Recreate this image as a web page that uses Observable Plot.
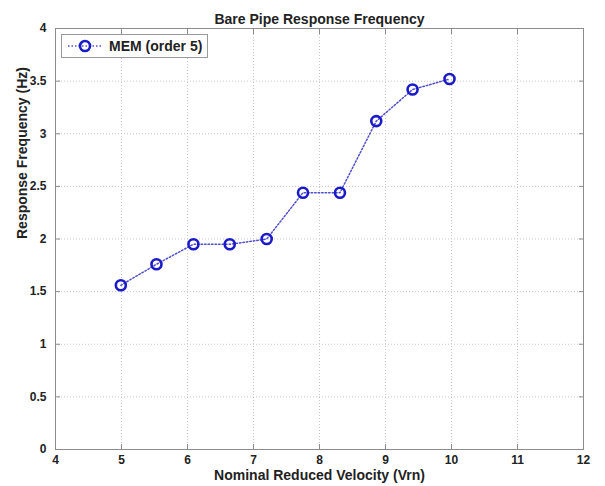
<!DOCTYPE html>
<html><head><meta charset="utf-8">
<script src="https://cdn.jsdelivr.net/npm/d3@7"></script>
<script src="https://cdn.jsdelivr.net/npm/@observablehq/plot@0.6"></script>
<style>
body{margin:0;background:#fff;}
#wrap{position:relative;width:605px;height:486px;font-family:"Liberation Sans",Arial,sans-serif;}
#legend{position:absolute;left:61px;top:34px;width:147px;height:24px;border:1px solid #9a9a9a;background:#fff;display:flex;align-items:center;font-weight:bold;font-size:14px;color:#222;box-sizing:border-box;}
#legend svg{margin-left:5px;margin-right:6px;}
</style></head><body>
<div id="wrap"><div id="legend"></div></div>
<script>
const velocity = [4.99, 5.53, 6.09, 6.64, 7.20, 7.75, 8.31, 8.86, 9.41, 9.97];
const frequency = [1.56, 1.76, 1.95, 1.95, 2.00, 2.44, 2.44, 3.12, 3.42, 3.52];
const xTicks = [4, 5, 6, 7, 8, 9, 10, 11, 12];
const yTicks = [0, 0.5, 1, 1.5, 2, 2.5, 3, 3.5, 4];
const titleText = "Bare Pipe Response Frequency";
const xLabel = "Nominal Reduced Velocity (Vrn)";
const yLabel = "Response Frequency (Hz)";
const seriesName = "MEM (order 5)";

const data = velocity.map((v, i) => ({v, f: frequency[i]}));
const lineColor = "#5050cc";
const markColor = "#1a1ac8";
const axisColor = "#8c8c8c";
const textColor = "#222";

const plot = Plot.plot({
  width: 605, height: 486,
  marginLeft: 55, marginRight: 22, marginTop: 28, marginBottom: 37,
  style: {fontFamily: '"Liberation Sans", Arial, sans-serif', color: textColor, background: "#fff"},
  x: {domain: [4, 12], label: null},
  y: {domain: [0, 4], label: null},
  marks: [
    Plot.gridX(xTicks, {stroke: "#c8c8c8", strokeOpacity: 1, strokeDasharray: "1,2"}),
    Plot.gridY(yTicks, {stroke: "#c8c8c8", strokeOpacity: 1, strokeDasharray: "1,2"}),
    Plot.frame({stroke: axisColor}),
    Plot.axisX(xTicks, {anchor: "bottom", tickSize: -5, stroke: axisColor, tickFormat: () => "", label: null}),
    Plot.axisX(xTicks, {anchor: "top", tickSize: -5, stroke: axisColor, tickFormat: () => "", label: null}),
    Plot.axisY(yTicks, {anchor: "left", tickSize: -5, stroke: axisColor, tickFormat: () => "", label: null}),
    Plot.axisY(yTicks, {anchor: "right", tickSize: -5, stroke: axisColor, tickFormat: () => "", label: null}),
    Plot.axisX(xTicks, {anchor: "bottom", tickSize: 0, tickPadding: 6, fontSize: 12, fontWeight: "bold", fill: textColor, label: null, tickFormat: d => String(d)}),
    Plot.axisY(yTicks, {anchor: "left", tickSize: 0, tickPadding: 9, fontSize: 12, fontWeight: "bold", fill: textColor, label: null, tickFormat: d => String(d)}),
    Plot.line(data, {x: "v", y: "f", stroke: lineColor, strokeWidth: 1.5, strokeDasharray: "1.5,2"}),
    Plot.dot(data, {x: "v", y: "f", r: 5, stroke: markColor, strokeWidth: 2.6, fill: "none"}),
    Plot.text([titleText], {frameAnchor: "top", dy: -14, text: d => d, fontSize: 14, fontWeight: "bold", fill: textColor}),
    Plot.text([xLabel], {frameAnchor: "bottom", dy: 30, text: d => d, fontSize: 14, fontWeight: "bold", fill: textColor}),
    Plot.text([yLabel], {frameAnchor: "left", dx: -33, rotate: -90, text: d => d, fontSize: 14, fontWeight: "bold", fill: textColor})
  ]
});
const wrap = document.getElementById("wrap");
wrap.insertBefore(plot, wrap.firstChild);

// legend
const legend = document.getElementById("legend");
const ns = "http://www.w3.org/2000/svg";
const s = document.createElementNS(ns, "svg");
s.setAttribute("width", 36); s.setAttribute("height", 14);
const ln = document.createElementNS(ns, "line");
ln.setAttribute("x1", 1); ln.setAttribute("x2", 35); ln.setAttribute("y1", 7); ln.setAttribute("y2", 7);
ln.setAttribute("stroke", lineColor); ln.setAttribute("stroke-width", 1.5); ln.setAttribute("stroke-dasharray", "1.5,2");
const c = document.createElementNS(ns, "circle");
c.setAttribute("cx", 18); c.setAttribute("cy", 7); c.setAttribute("r", 5);
c.setAttribute("fill", "none"); c.setAttribute("stroke", markColor); c.setAttribute("stroke-width", 2.6);
s.appendChild(ln); s.appendChild(c);
legend.appendChild(s);
const t = document.createElement("span");
t.textContent = seriesName;
legend.appendChild(t);
</script>
</body></html>
